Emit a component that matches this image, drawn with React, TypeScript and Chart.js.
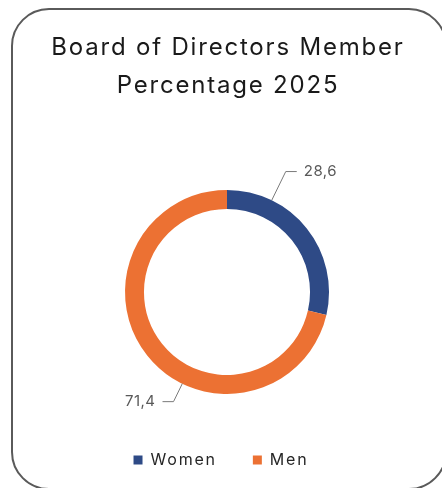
import React, { useEffect, useRef } from "react";
import { Chart, registerables } from "chart.js";

Chart.register(...registerables);

const categories = ["Women", "Men"];
const shareValues = [28.6, 71.4];
const sliceColors = ["#2E4A86", "#EC7133"];
const titleLines = ["Board of Directors Member", "Percentage 2025"];

const FONT = "Inter, 'Open Sans', sans-serif";

const spacingPlugin = {
  id: "letterSpacing",
  beforeUpdate(chart: any, _a: any, opts: any) {
    (chart.ctx as any).letterSpacing = opts.value;
  },
  beforeDraw(chart: any, _a: any, opts: any) {
    (chart.ctx as any).letterSpacing = opts.value;
  },
};

const areaPlugin = {
  id: "fixedArea",
  afterLayout(chart: any, _a: any, opts: any) {
    const ca = chart.chartArea;
    ca.left = opts.left;
    ca.right = opts.right;
    ca.top = opts.top;
    ca.bottom = opts.bottom;
    ca.width = opts.right - opts.left;
    ca.height = opts.bottom - opts.top;
    const tb = chart.titleBlock;
    if (tb) {
      tb.left += opts.titleShift;
      tb.right += opts.titleShift;
    }
  },
};

const leaderPlugin = {
  id: "leaderLabels",
  afterDatasetsDraw(chart: any, _args: any, opts: any) {
    const ctx = chart.ctx;
    const meta = chart.getDatasetMeta(0);
    const ds = chart.data.datasets[0];
    meta.data.forEach((arc: any, i: number) => {
      const deg = opts.angles[i];
      const ext = opts.ext[i];
      const a = (deg * Math.PI) / 180;
      const R = arc.outerRadius;
      const sx = arc.x + R * Math.sin(a);
      const sy = arc.y - R * Math.cos(a);
      const ex = arc.x + (R + ext) * Math.sin(a);
      const ey = arc.y - (R + ext) * Math.cos(a);
      const dir = Math.sin(a) >= 0 ? 1 : -1;
      const hx = ex + dir * opts.horiz;
      ctx.save();
      ctx.strokeStyle = opts.lineColor;
      ctx.lineWidth = 1;
      ctx.beginPath();
      ctx.moveTo(sx, sy);
      ctx.lineTo(ex, ey);
      ctx.lineTo(hx, ey);
      ctx.stroke();
      ctx.fillStyle = opts.textColor;
      ctx.font = `${opts.fontSize}px ${FONT}`;
      (ctx as any).letterSpacing = opts.letterSpacing;
      ctx.textBaseline = "middle";
      ctx.textAlign = dir > 0 ? "left" : "right";
      const txt = String(ds.data[i]).replace(".", ",");
      ctx.fillText(txt, hx + dir * opts.gap, ey);
      ctx.restore();
    });
  },
};

export default function App() {
  const ref = useRef<HTMLCanvasElement | null>(null);

  useEffect(() => {
    if (!ref.current) return;
    const chart = new Chart(ref.current, {
      type: "doughnut",
      data: {
        labels: categories,
        datasets: [
          {
            data: shareValues,
            backgroundColor: sliceColors,
            borderWidth: 0,
            hoverOffset: 0,
          },
        ],
      },
      options: {
        animation: false,
        responsive: false,
        maintainAspectRatio: false,
        cutout: "81.4%",
        layout: { padding: { left: 0, right: 0, top: 0, bottom: 10 } },
        plugins: {
          letterSpacing: { value: "1.8px" },
          fixedArea: { left: 125, right: 329, top: 190, bottom: 394, titleShift: 7 },
          title: {
            display: true,
            text: titleLines,
            color: "#1a1a1a",
            font: { family: FONT, size: 24, weight: "normal", lineHeight: 1.58 },
            padding: { top: 29, bottom: 60 },
          },
          legend: {
            display: true,
            position: "bottom",
            labels: {
              boxWidth: 9,
              boxHeight: 9,
              padding: 36,
              color: "#262626",
              font: { family: FONT, size: 16 },
            },
          },
          tooltip: { enabled: false },
          leaderLabels: {
            angles: [26, 206],
            ext: [32, 20],
            horiz: 11,
            gap: 7,
            lineColor: "#7a7a7a",
            textColor: "#595959",
            fontSize: 15,
            letterSpacing: "0.5px",
          },
        } as any,
      },
      plugins: [spacingPlugin, areaPlugin, leaderPlugin],
    });
    return () => chart.destroy();
  }, []);

  return (
    <div style={{ position: "fixed", left: 0, top: 0, width: 442, height: 488, overflow: "hidden", background: "#fff" }}>
      <div
        style={{
          position: "absolute",
          left: 11,
          top: 8,
          width: 436,
          height: 482,
          border: "2px solid #5a5a5a",
          borderRadius: 38,
          boxSizing: "border-box",
        }}
      />
      <canvas ref={ref} width={442} height={488} style={{ position: "absolute", left: 0, top: 0, width: 442, height: 488 }} />
    </div>
  );
}
